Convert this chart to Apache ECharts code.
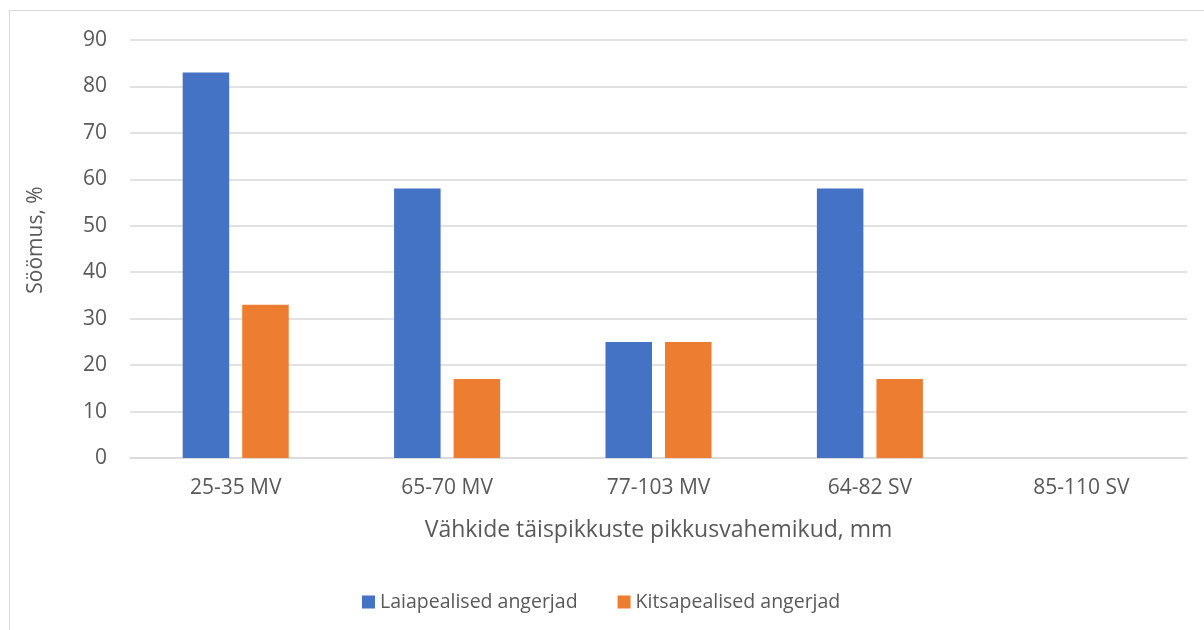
<!DOCTYPE html>
<html>
<head>
<meta charset="utf-8">
<script src="https://cdn.jsdelivr.net/npm/echarts@6/dist/echarts.min.js"></script>
<style>
html,body{margin:0;padding:0;background:#fff;}
#frame{position:absolute;left:9px;top:10px;width:1210px;height:640px;border:1px solid #d9d9d9;box-sizing:border-box;}
#chart{position:absolute;left:0;top:0;width:1204px;height:630px;}
</style>
</head>
<body>
<div id="frame"></div>
<div id="chart"></div>
<script>
const categories = ['25-35 MV', '65-70 MV', '77-103 MV', '64-82 SV', '85-110 SV'];
const seriesNames = ['Laiapealised angerjad', 'Kitsapealised angerjad'];
const laiapealised = [83, 58, 25, 58, 0];
const kitsapealised = [33, 17, 25, 17, 0];
const yTicks = { min: 0, max: 90, interval: 10 };
const xTitle = 'Vähkide täispikkuste pikkusvahemikud, mm';
const yTitle = 'Söömus, %';

const font = '"Open Sans", "Noto Sans", sans-serif';
const chart = echarts.init(document.getElementById('chart'), null, { renderer: 'canvas' });
chart.setOption({
  animation: false,
  backgroundColor: 'transparent',
  textStyle: { fontFamily: font },
  grid: { left: 130, right: 17, top: 40, bottom: 172, containLabel: false },
  legend: {
    top: 587,
    left: 357,
    padding: 5,
    itemWidth: 13,
    itemHeight: 13,
    itemGap: 40,
    icon: 'rect',
    textStyle: { fontSize: 19.5, color: '#595959', fontFamily: font },
    data: seriesNames
  },
  graphic: [{
    type: 'text',
    x: 36, y: 240,
    rotation: Math.PI / 2,
    style: {
      text: yTitle,
      fontSize: 21,
      fontFamily: font,
      fill: '#595959',
      align: 'center',
      verticalAlign: 'middle'
    }
  }],
  xAxis: {
    type: 'category',
    data: categories,
    name: xTitle,
    nameLocation: 'middle',
    nameGap: 61,
    nameTextStyle: { fontSize: 23, color: '#595959', fontFamily: font },
    axisLine: { lineStyle: { color: '#d9d9d9', width: 1.5 } },
    axisTick: { show: false },
    axisLabel: { fontSize: 21, color: '#595959', margin: 20, fontFamily: font }
  },
  yAxis: {
    type: 'value',
    min: yTicks.min,
    max: yTicks.max,
    interval: yTicks.interval,
    axisLine: { show: false },
    axisTick: { show: false },
    axisLabel: { fontSize: 21, color: '#595959', margin: 23, fontFamily: font },
    splitLine: { lineStyle: { color: '#d9d9d9', width: 1.5 } }
  },
  series: [
    {
      name: seriesNames[0], type: 'bar', data: laiapealised,
      barWidth: '22%', barGap: '28%',
      itemStyle: { color: '#4472c4' }
    },
    {
      name: seriesNames[1], type: 'bar', data: kitsapealised,
      barWidth: '22%', barGap: '28%',
      itemStyle: { color: '#ed7d31' }
    }
  ]
});
</script>
</body>
</html>
